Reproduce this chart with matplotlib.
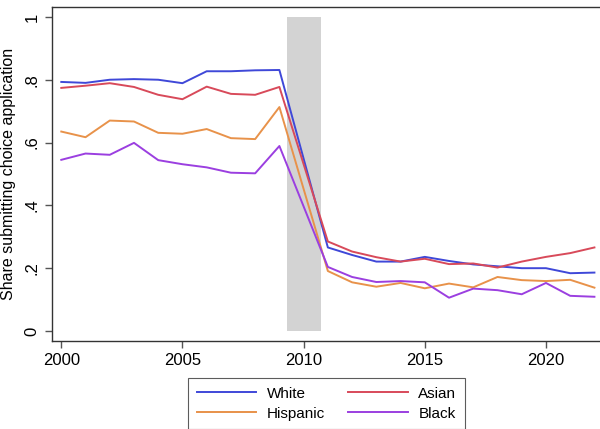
import matplotlib.pyplot as plt

plt.rcParams['font.family'] = ['Liberation Sans', 'DejaVu Sans']

# no 2010 observation: lines run straight across the shaded window
years = [2000, 2001, 2002, 2003, 2004, 2005, 2006, 2007, 2008, 2009,
         2011, 2012, 2013, 2014, 2015, 2016, 2017, 2018, 2019, 2020, 2021, 2022]

white = [0.793, 0.790, 0.800, 0.802, 0.800, 0.789, 0.827, 0.827, 0.830, 0.831,
         0.266, 0.242, 0.221, 0.221, 0.236, 0.223, 0.212, 0.206, 0.200,
         0.200, 0.184, 0.186]
asian = [0.774, 0.781, 0.789, 0.777, 0.752, 0.738, 0.778, 0.755, 0.752, 0.777,
         0.285, 0.253, 0.235, 0.221, 0.230, 0.213, 0.215, 0.202, 0.221,
         0.236, 0.248, 0.266]
hispanic = [0.635, 0.617, 0.670, 0.667, 0.631, 0.628, 0.643, 0.614, 0.611, 0.713,
            0.191, 0.155, 0.141, 0.153, 0.136, 0.151, 0.139, 0.172, 0.162,
            0.159, 0.163, 0.138]
black = [0.545, 0.565, 0.561, 0.599, 0.544, 0.531, 0.521, 0.504, 0.502, 0.589,
         0.204, 0.172, 0.156, 0.159, 0.155, 0.106, 0.135, 0.130, 0.117,
         0.153, 0.112, 0.109]

# shaded transition window
band = (2009.3, 2010.7)

fig = plt.figure(figsize=(6, 4.29), dpi=100)
ax = fig.add_axes([0.086, 0.205, 0.914, 0.779])

ax.fill_between(band, 0, 1, color='#d3d3d3', lw=0, zorder=1)

ax.plot(years, white, color='#3f48d8', lw=1.4, label='White', zorder=3)
ax.plot(years, asian, color='#d84a5a', lw=1.4, label='Asian', zorder=3)
ax.plot(years, hispanic, color='#e8924a', lw=1.4, label='Hispanic', zorder=3)
ax.plot(years, black, color='#9b3fe0', lw=1.4, label='Black', zorder=3)

ax.set_xlim(1999.6, 2022.23)
ax.set_ylim(-0.032, 1.032)
ax.set_xticks([2000, 2005, 2010, 2015, 2020])
ax.set_yticks([0, 0.2, 0.4, 0.6, 0.8, 1])
ax.set_yticklabels(['0', '.2', '.4', '.6', '.8', '1'], rotation=90, va='center')
ax.tick_params(labelsize=12, length=5, width=1, color='#555555')
ax.set_ylabel('Share submitting choice application', fontsize=11.5, labelpad=6)

ax.spines['right'].set_visible(False)
for s in ['left', 'bottom', 'top']:
    ax.spines[s].set_color('#333333')
    ax.spines[s].set_linewidth(1)

handles, labels = ax.get_legend_handles_labels()
leg = fig.legend([handles[0], handles[2], handles[1], handles[3]],
                 ['White', 'Hispanic', 'Asian', 'Black'],
                 ncol=2, loc='lower center', bbox_to_anchor=(0.544, -0.018),
                 fontsize=11, frameon=True, fancybox=False, handlelength=3.9,
                 handletextpad=0.7, columnspacing=1.5, borderpad=0.55,
                 labelspacing=0.4)
leg.get_frame().set_edgecolor('#333333')
leg.get_frame().set_linewidth(0.8)

fig.savefig('out.png')
